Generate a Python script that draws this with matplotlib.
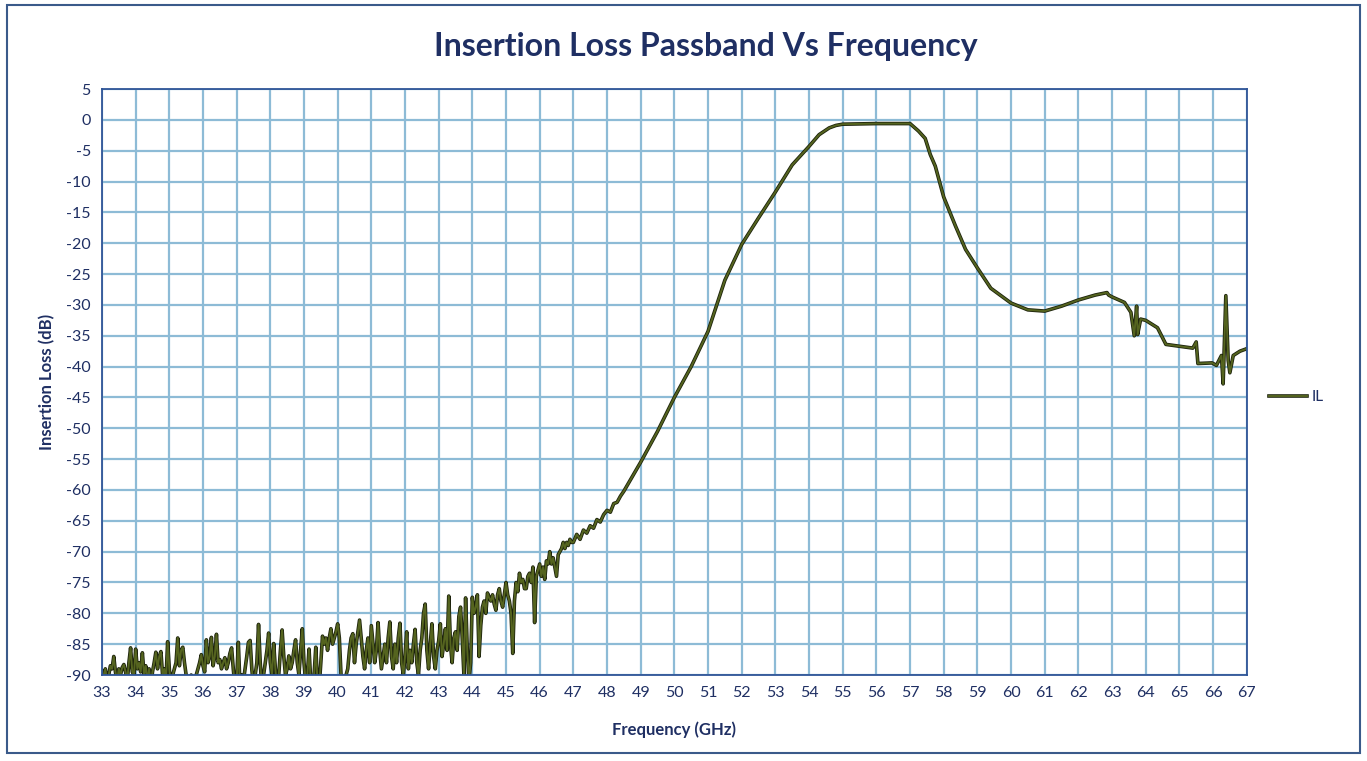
#!/usr/bin/env python3

import numpy as np
import matplotlib
matplotlib.use("Agg")
import matplotlib.pyplot as plt
import matplotlib.patheffects as pe
from matplotlib.patches import Rectangle


# noisy low-frequency part, one reading every 0.05 GHz from 33.00 to 46.95
noise_freq = np.round(np.arange(33.0, 46.99, 0.05), 2)
noise_il = [
    -92, -90, -89, -91, -90, -88.5, -89, -87, -89.5, -91, -89, -90, -88.8, -88.3, -89.5, -91, -88, -85.6, -89.5, -90,
    -85.8, -89, -88, -89.5, -86.4, -90, -88.5, -91, -89, -92, -89.5, -88, -86.3, -89, -87, -86.2, -90, -89, -91, -84.6,
    -89, -92, -90, -89, -88, -84, -88.5, -86, -85.5, -88, -90, -92, -91, -90, -92, -91, -90, -89, -88, -86.7,
    -88.5, -89.5, -84.3, -88, -87, -83.9, -88.5, -87, -83.4, -88, -87.5, -89, -88, -87.2, -89, -88, -86.5, -85.6, -89, -92,
    -91, -84.7, -92, -90, -91, -89, -87, -84.7, -84.4, -89, -92, -90, -88, -81.8, -88, -92, -90, -88, -86, -83.2,
    -88, -90, -84.9, -89, -92, -90, -86, -82.7, -87, -90, -89, -86.9, -89, -88, -86, -84.3, -88, -90, -86, -82.5,
    -88, -91, -90, -85.8, -91, -92, -90, -85.5, -91, -92, -88, -83.7, -85, -84, -86, -84, -82.5, -85, -84, -83,
    -81.7, -84, -90, -92, -91, -90, -89, -86, -84, -83.3, -88, -85, -83, -81.1, -84, -87, -89, -86, -84, -88,
    -82, -85, -88, -86, -81.5, -86, -89, -87, -85, -88, -84, -81.4, -87, -89, -85, -88, -84, -81.6, -88, -90,
    -87, -83, -89, -86, -88, -85, -82.6, -88, -90, -86, -84, -80, -78.5, -86, -89, -85, -81.7, -87, -89, -86,
    -84.5, -81.7, -87, -85, -82.5, -86, -77.2, -85, -88, -84, -83, -86, -80.5, -79, -84, -90, -77.5, -86, -91, -88,
    -77.4, -80, -79, -77, -87, -82, -79, -78, -80, -76.7, -77.5, -78, -77, -78.5, -79.5, -77, -76, -78, -79, -77,
    -75, -77, -78, -80, -86.5, -78, -75, -76.5, -73.5, -75, -74.5, -76, -76, -74, -73.5, -75, -72.5, -81.5, -74, -73,
    -72, -74, -72.5, -74.5, -71.5, -72, -70, -72, -71, -72.5, -74, -70.5, -70, -69.5, -68.5, -69.5, -68.5, -69, -68, -68.5,
]

# smoother part of the sweep
smooth_freq = [47.0, 47.1, 47.2, 47.3, 47.4, 47.5, 47.6, 47.7, 47.8, 47.9,
               48.0, 48.1, 48.2, 48.3, 48.4, 48.5, 49.0, 49.5, 50.0, 50.5,
               51.0, 51.5, 52.0, 52.5, 53.0, 53.5, 54.0, 54.3, 54.6, 54.8,
               55.0, 56.0, 57.0, 57.25, 57.45, 57.6, 57.75, 58.0, 58.35, 58.65,
               59.0, 59.4, 60.0, 60.5, 61.0, 61.5, 62.0, 62.5, 62.85, 62.9,
               63.0, 63.37, 63.56, 63.66, 63.73, 63.76, 63.85, 64.0, 64.35, 64.6,
               65.0, 65.4, 65.5, 65.55, 65.97, 66.1, 66.25, 66.3, 66.38, 66.45,
               66.5, 66.6, 66.8, 67.0]
smooth_il = [-68.5, -67.2, -68.0, -66.5, -67.0, -65.8, -66.2, -64.8, -65.2, -64.0,
             -63.3, -63.6, -62.2, -62.0, -61.0, -60.2, -55.5, -50.5, -45.0, -40.0,
             -34.3, -26.0, -20.2, -15.9, -11.7, -7.3, -4.3, -2.4, -1.3, -0.9,
             -0.7, -0.6, -0.6, -1.8, -3.0, -5.6, -7.5, -12.5, -17.2, -21.0,
             -24.0, -27.3, -29.7, -30.8, -31.0, -30.2, -29.2, -28.4, -28.0, -28.4,
             -28.7, -29.6, -31.2, -35.0, -30.2, -34.8, -32.3, -32.5, -33.7, -36.4,
             -36.7, -37.0, -36.0, -39.5, -39.4, -39.8, -38.2, -42.8, -28.5, -39.0,
             -41.0, -38.2, -37.5, -37.1]

xticks = list(range(33, 68))
yticks = list(range(-90, 6, 5))

navy = "#1f2f63"
plt.rcParams["font.family"] = ["Lato", "DejaVu Sans"]
plt.rcParams["axes.unicode_minus"] = False

fig = plt.figure(figsize=(13.67, 7.61), dpi=100)
ax = fig.add_axes([0.0746, 0.113, 0.8374, 0.770])

freq = list(noise_freq) + smooth_freq
il = list(noise_il) + smooth_il
ax.plot(freq, il, color="#55641f", lw=1.4, label="IL",
        path_effects=[pe.Stroke(linewidth=2.6, foreground="#1c220c"), pe.Normal()])

ax.set_xlim(33, 67)
ax.set_ylim(-90, 5)
ax.set_xticks(xticks)
ax.set_yticks(yticks)
ax.grid(True, color="#8dbbd6", lw=1.6)
ax.set_axisbelow(True)
ax.tick_params(length=0, labelsize=11.5, labelcolor=navy, pad=8)
for s in ax.spines.values():
    s.set_color("#2f5597")
    s.set_linewidth(1.3)

ax.set_xlabel("Frequency (GHz)", fontsize=12, fontweight="bold", color=navy, labelpad=15)
ax.set_ylabel("Insertion Loss (dB)", fontsize=12, fontweight="bold", color=navy, labelpad=8)
fig.suptitle("Insertion Loss Passband Vs Frequency", x=0.516, y=0.958,
             fontsize=23, fontweight="bold", color=navy)

fig.legend(loc="center left", bbox_to_anchor=(0.918, 0.478), frameon=False,
           fontsize=11, labelcolor=navy, handlelength=2.5, handletextpad=0.3)

fig.patches.append(Rectangle((0.005, 0.01), 0.99, 0.983, transform=fig.transFigure,
                             fill=False, edgecolor="#3a5a8a", lw=1.5))

fig.savefig("out.png", dpi=100)
